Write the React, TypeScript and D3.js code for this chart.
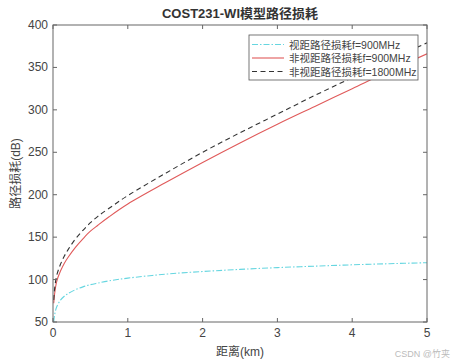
import React from "react";
import * as d3 from "d3";

const W = 454;
const H = 362;
const margin = { left: 53, right: 27, top: 25, bottom: 40 };

// distance (km)
const distances = [0.01, 0.02, 0.05, 0.1, 0.15, 0.2, 0.3, 0.4, 0.5, 0.6, 0.75, 1, 1.5, 2, 2.5, 3, 3.5, 4, 4.5, 5];
// LOS path loss f=900MHz
const losValues = [50, 57.5, 68, 75.7, 80.3, 83.5, 88.1, 91.4, 94, 95.9, 98.5, 101.7, 106.3, 109.5, 112, 114.1, 115.8, 117.4, 118.7, 119.9];
// NLOS f=900MHz
const nlos900Values = [72, 82, 98, 110, 119, 126, 138, 148, 157, 164, 174, 189, 214, 238, 261, 283, 304, 325, 346, 366];
// NLOS f=1800MHz
const nlos1800Values = [76, 88, 105, 118, 127.5, 135, 148, 158, 167, 174.5, 184, 199, 225, 250, 273, 295, 317, 338, 359, 379];

const xTicks = [0, 1, 2, 3, 4, 5];
const yTicks = [50, 100, 150, 200, 250, 300, 350, 400];

const legendLabels = ["视距路径损耗f=900MHz", "非视距路径损耗f=900MHz", "非视距路径损耗f=1800MHz"];

const series = [
  { values: losValues, color: "#66d6e0", dash: "6,2,1.5,2", width: 1.1 },
  { values: nlos900Values, color: "#e05a5a", dash: "", width: 1.1 },
  { values: nlos1800Values, color: "#333333", dash: "5,3.5", width: 1.1 },
];

const latin = "'Liberation Sans', Arial, sans-serif";
const cjk = "'Liberation Sans', 'Noto Sans CJK SC', sans-serif";
const axisColor = "#666";
const textColor = "#444";

export default function App() {
  const x = d3.scaleLinear().domain([0, 5]).range([margin.left, W - margin.right]);
  const y = d3.scaleLinear().domain([50, 400]).range([H - margin.bottom, margin.top]);
  const [x0, x1] = x.range();
  const [yb, yt] = y.range();

  const line = (vals: number[]) =>
    d3
      .line<number>()
      .x((_, i) => x(distances[i]))
      .y((v) => y(v))
      .curve(d3.curveCatmullRom.alpha(0.5))(vals) || "";

  const tickLen = 4;
  const lgX = 249;
  const lgY = 35;
  const lgW = 169;
  const lgH = 45;

  return (
    <svg
      width={W}
      height={H}
      style={{ position: "absolute", left: 0, top: 0, background: "#fff" }}
    >
      <defs>
        <clipPath id="plot">
          <rect x={x0} y={yt} width={x1 - x0} height={yb - yt} />
        </clipPath>
      </defs>

      {/* title */}
      <text
        x={(x0 + x1) / 2}
        y={18}
        textAnchor="middle"
        fontFamily={cjk}
        fontSize={13}
        fontWeight="bold"
        fill="#333"
      >
        COST231-WI模型路径损耗
      </text>

      {/* series */}
      <g clipPath="url(#plot)">
        {series.map((s, i) => (
          <path
            key={i}
            d={line(s.values)}
            fill="none"
            stroke={s.color}
            strokeWidth={s.width}
            strokeDasharray={s.dash || undefined}
          />
        ))}
      </g>

      {/* axes box */}
      <rect x={x0} y={yt} width={x1 - x0} height={yb - yt} fill="none" stroke={axisColor} strokeWidth={1} />

      {/* x ticks */}
      {xTicks.map((t) => (
        <g key={"x" + t}>
          <line x1={x(t)} x2={x(t)} y1={yb} y2={yb - tickLen} stroke={axisColor} />
          <line x1={x(t)} x2={x(t)} y1={yt} y2={yt + tickLen} stroke={axisColor} />
          <text x={x(t)} y={yb + 15} textAnchor="middle" fontFamily={latin} fontSize={12} fill={textColor}>
            {t}
          </text>
        </g>
      ))}

      {/* y ticks */}
      {yTicks.map((t) => (
        <g key={"y" + t}>
          <line x1={x0} x2={x0 + tickLen} y1={y(t)} y2={y(t)} stroke={axisColor} />
          <line x1={x1} x2={x1 - tickLen} y1={y(t)} y2={y(t)} stroke={axisColor} />
          <text x={x0 - 5} y={y(t) + 4} textAnchor="end" fontFamily={latin} fontSize={12} fill={textColor}>
            {t}
          </text>
        </g>
      ))}

      {/* axis labels */}
      <text x={(x0 + x1) / 2} y={356} textAnchor="middle" fontFamily={cjk} fontSize={12} fill={textColor}>
        距离(km)
      </text>
      <text
        transform={`translate(20,${(yt + yb) / 2}) rotate(-90)`}
        textAnchor="middle"
        fontFamily={cjk}
        fontSize={12}
        fill={textColor}
      >
        路径损耗(dB)
      </text>

      {/* legend */}
      <rect x={lgX} y={lgY} width={lgW} height={lgH} fill="#fff" stroke="#555" strokeWidth={0.8} />
      {legendLabels.map((lab, i) => {
        const ly = lgY + 9.5 + i * 13.5;
        return (
          <g key={lab}>
            <line
              x1={lgX + 3}
              x2={lgX + 35}
              y1={ly}
              y2={ly}
              stroke={series[i].color}
              strokeWidth={1.1}
              strokeDasharray={series[i].dash || undefined}
            />
            <text x={lgX + 40} y={ly + 4} fontFamily={cjk} fontSize={10.5} fill={textColor}>
              {lab}
            </text>
          </g>
        );
      })}

      {/* watermark */}
      <text x={450} y={357} textAnchor="end" fontFamily={cjk} fontSize={9} fill="#bbb">
        CSDN @竹夹
      </text>
    </svg>
  );
}
